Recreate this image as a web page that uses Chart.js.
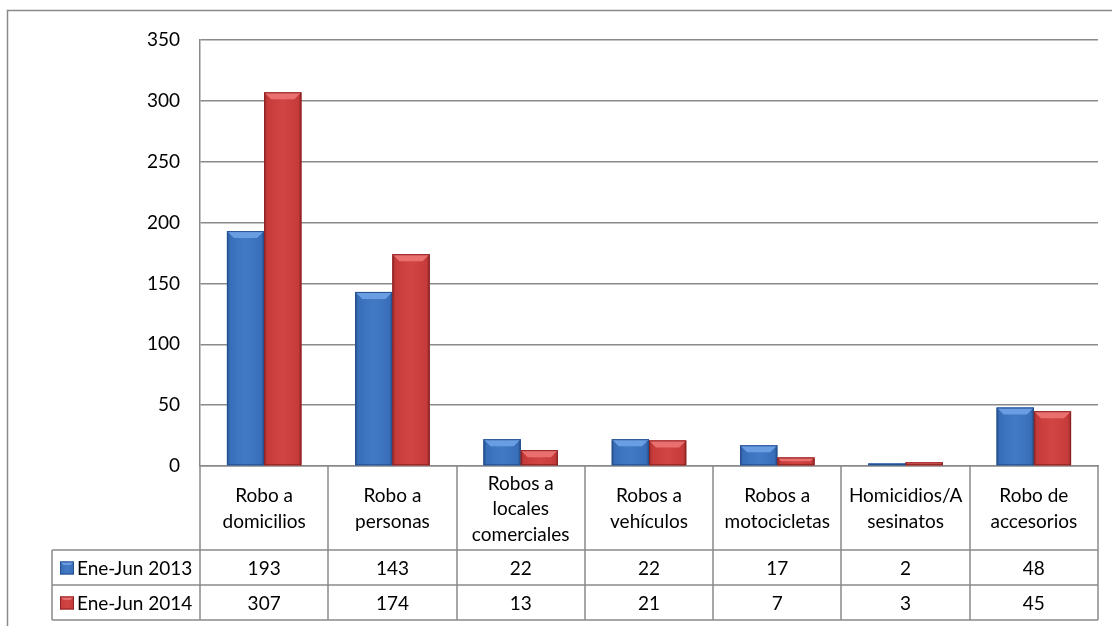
<!DOCTYPE html>
<html>
<head>
<meta charset="utf-8">
<script src="https://cdn.jsdelivr.net/npm/chart.js@4/dist/chart.umd.min.js"></script>
<style>
  html, body { margin: 0; padding: 0; background: #fff; }
  #wrap { width: 1112px; height: 626px; position: relative; }
</style>
</head>
<body>
<div id="wrap"><canvas id="chart" width="1112" height="626"></canvas></div>
<script>
const categories = [
  ['Robo a', 'domicilios'],
  ['Robo a', 'personas'],
  ['Robos a', 'locales', 'comerciales'],
  ['Robos a', 'vehículos'],
  ['Robos a', 'motocicletas'],
  ['Homicidios/A', 'sesinatos'],
  ['Robo de', 'accesorios']
];
const seriesNames = ['Ene-Jun 2013', 'Ene-Jun 2014'];
const values2013 = [193, 143, 22, 22, 17, 2, 48];
const values2014 = [307, 174, 13, 21, 7, 3, 45];
const yMax = 350;
const yStep = 50;

const FONT = 'Lato, "Open Sans", sans-serif';
const GRID = '#8a8a8a';

// colours per series: main, dark edge, light top
const palette = [
  { main: '#3b74c3', dark: '#24518f', light: '#6a9ee3' },
  { main: '#d03d3d', dark: '#8e2323', light: '#ea6f6f' }
];

// little bevelled box like the Excel 3D-ish bars
function bevelBox(ctx, left, top, right, bottom, col) {
  const w = right - left, h = bottom - top;
  if (h <= 0) return;
  const b = Math.min(7, h / 2, w / 4);
  ctx.save();
  ctx.fillStyle = col.main;
  ctx.fillRect(left, top, w, h);
  // darker side strips
  const g = ctx.createLinearGradient(left, 0, right, 0);
  g.addColorStop(0, 'rgba(0,0,0,0.30)');
  g.addColorStop(0.08, 'rgba(0,0,0,0.05)');
  g.addColorStop(0.5, 'rgba(255,255,255,0.04)');
  g.addColorStop(0.92, 'rgba(0,0,0,0.05)');
  g.addColorStop(1, 'rgba(0,0,0,0.32)');
  ctx.fillStyle = g;
  ctx.fillRect(left, top, w, h);
  // light top bevel
  ctx.beginPath();
  ctx.moveTo(left, top);
  ctx.lineTo(right, top);
  ctx.lineTo(right - b, top + b);
  ctx.lineTo(left + b, top + b);
  ctx.closePath();
  ctx.fillStyle = col.light;
  ctx.fill();
  ctx.strokeStyle = col.dark;
  ctx.lineWidth = 1;
  ctx.strokeRect(left + 0.5, top + 0.5, w - 1, h - 1);
  ctx.restore();
}

const bevelPlugin = {
  id: 'bevel',
  afterDatasetsDraw(chart) {
    const ctx = chart.ctx;
    chart.data.datasets.forEach((ds, di) => {
      chart.getDatasetMeta(di).data.forEach(el => {
        const p = el.getProps(['x', 'y', 'base', 'width'], true);
        bevelBox(ctx, p.x - p.width / 2, p.y, p.x + p.width / 2, p.base, palette[di]);
      });
    });
  }
};

const tablePlugin = {
  id: 'dataTable',
  afterDraw(chart) {
    const ctx = chart.ctx;
    const area = chart.chartArea;
    const xs = chart.scales.x;
    const half = (xs.getPixelForValue(1) - xs.getPixelForValue(0)) / 2;
    const labelBottom = area.bottom + 84;
    const rowH = 35;
    const rows = [values2013, values2014];
    const tableLeft = 52;
    const tableBottom = labelBottom + rowH * rows.length;

    ctx.save();
    // outer chart frame (top and left edges)
    ctx.strokeStyle = GRID;
    ctx.lineWidth = 1.5;
    ctx.beginPath();
    ctx.moveTo(7.5, chart.height);
    ctx.lineTo(7.5, 10.5);
    ctx.lineTo(chart.width, 10.5);
    ctx.stroke();

    // table grid
    ctx.lineWidth = 1.5;
    ctx.beginPath();
    for (let i = 0; i <= categories.length; i++) {
      const x = Math.round(xs.getPixelForValue(i) - half);
      ctx.moveTo(x, area.bottom);
      ctx.lineTo(x, tableBottom);
    }
    for (let r = 0; r <= rows.length; r++) {
      const y = Math.round(labelBottom + r * rowH);
      ctx.moveTo(tableLeft, y);
      ctx.lineTo(area.right, y);
    }
    ctx.moveTo(tableLeft, labelBottom);
    ctx.lineTo(tableLeft, tableBottom);
    ctx.stroke();

    // category labels
    ctx.fillStyle = '#000';
    ctx.font = '19px ' + FONT;
    ctx.textAlign = 'center';
    ctx.textBaseline = 'middle';
    const lh = 25.5;
    const midY = (area.bottom + labelBottom) / 2 + 1;
    categories.forEach((lines, i) => {
      const cx = xs.getPixelForValue(i);
      lines.forEach((t, k) => {
        ctx.fillText(t, cx, midY + (k - (lines.length - 1) / 2) * lh);
      });
    });

    // values rows + legend keys
    rows.forEach((vals, r) => {
      const cy = labelBottom + r * rowH + rowH / 2 + 1;
      ctx.textAlign = 'center';
      vals.forEach((v, i) => ctx.fillText(String(v), xs.getPixelForValue(i), cy));
      bevelBox(ctx, 60, cy - 7, 74, cy + 6, palette[r]);
      ctx.fillStyle = '#000';
      ctx.textAlign = 'left';
      ctx.fillText(seriesNames[r], 77, cy);
    });
    ctx.restore();
  }
};

new Chart(document.getElementById('chart'), {
  type: 'bar',
  data: {
    labels: categories.map(c => c.join(' ')),
    datasets: [
      { label: seriesNames[0], data: values2013, backgroundColor: palette[0].main },
      { label: seriesNames[1], data: values2014, backgroundColor: palette[1].main }
    ]
  },
  options: {
    responsive: false,
    animation: false,
    devicePixelRatio: 1,
    layout: { padding: { top: 40, right: 14, left: 0, bottom: 0 } },
    datasets: { bar: { categoryPercentage: 0.58, barPercentage: 1 } },
    plugins: { legend: { display: false }, tooltip: { enabled: false } },
    scales: {
      x: {
        ticks: { display: false },
        grid: { display: false },
        border: { display: true, color: GRID, width: 1.5 },
        afterFit(s) { s.height = 160; }
      },
      y: {
        min: 0,
        max: yMax,
        ticks: { stepSize: yStep, color: '#000', font: { family: FONT, size: 19 }, padding: 20 },
        grid: { color: GRID, lineWidth: 1.5, drawTicks: false },
        border: { display: true, color: GRID, width: 1.5 },
        afterFit(s) { s.width = 200; }
      }
    }
  },
  plugins: [bevelPlugin, tablePlugin]
});
</script>
</body>
</html>
